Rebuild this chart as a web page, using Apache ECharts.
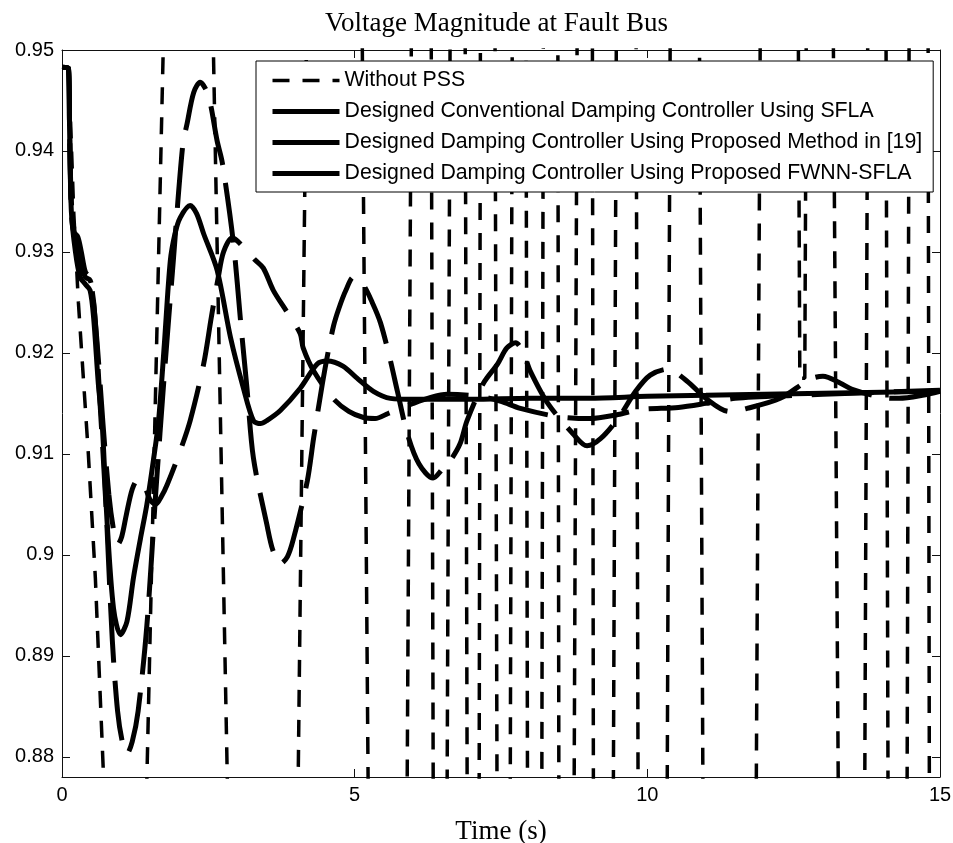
<!DOCTYPE html>
<html><head><meta charset="utf-8">
<script src="https://cdn.jsdelivr.net/npm/echarts@6/dist/echarts.min.js"></script>
<style>html,body{margin:0;padding:0;background:#fff}#c{width:953px;height:843px}</style>
</head><body><div id="c"></div>
<script>
const titleText = 'Voltage Magnitude at Fault Bus';
const xName = 'Time (s)';
const xTicks = [0, 5, 10, 15];
const yTicks = [0.88, 0.89, 0.9, 0.91, 0.92, 0.93, 0.94, 0.95];
const seriesNames = [
  'Without PSS',
  'Designed Conventional Damping Controller Using SFLA',
  'Designed Damping Controller Using Proposed Method in [19]',
  'Designed Damping Controller Using Proposed FWNN-SFLA'
];
// [time s, voltage pu]; values beyond the axis range are off-chart swings
const withoutPSS = [[0,0.9483],[0.11,0.9482],[0.14,0.944],[0.2,0.934],[0.28,0.925],[0.45,0.910],[0.57,0.8977],[0.71,0.878],[0.75,0.87],[1.42,0.87],[1.76,0.958],[2.56,0.958],[2.85,0.87],[4.02,0.87],[4.19,0.958],[5.12,0.958],[5.24,0.87],[5.89,0.87],[5.975,0.958],[6.305,0.958],[6.345,0.87],[6.575,0.87],[6.635,0.958],[6.885,0.958],[6.925,0.87],[7.125,0.87],[7.15,0.958],[7.395,0.958],[7.435,0.87],[7.655,0.87],[7.695,0.958],[7.925,0.958],[7.955,0.87],[8.195,0.87],[8.225,0.958],[8.47,0.958],[8.49,0.87],[8.745,0.87],[8.805,0.958],[9.06,0.958],[9.08,0.87],[9.415,0.87],[9.475,0.958],[9.805,0.958],[9.845,0.87],[10.335,0.87],[10.395,0.958],[10.885,0.958],[10.955,0.87],[11.855,0.87],[11.935,0.958],[12.575,0.958],[12.605,0.9175],[12.69,0.9175],[12.72,0.958],[13.17,0.958],[13.27,0.87],[13.71,0.87],[13.77,0.958],[14.075,0.958],[14.115,0.87],[14.435,0.87],[14.475,0.958],[14.795,0.958],[14.82,0.87],[15,0.87]];
const conventionalSFLA = [[0,0.9483],[0.11,0.9482],[0.13,0.942],[0.16,0.934],[0.2,0.932],[0.27,0.9315],[0.33,0.930],[0.4,0.928],[0.47,0.9275],[0.55,0.9245],[0.65,0.915],[0.75,0.905],[0.86,0.8915],[0.95,0.8845],[1.03,0.8815],[1.11,0.8803],[1.2,0.8815],[1.3,0.8845],[1.45,0.893],[1.6,0.906],[1.75,0.918],[1.9,0.929],[2.06,0.9404],[2.14,0.9428],[2.25,0.9458],[2.36,0.9468],[2.5,0.9455],[2.65,0.941],[2.74,0.9388],[2.93,0.9308],[3.05,0.9232],[3.16,0.9165],[3.27,0.9096],[3.5,0.903],[3.6,0.9005],[3.73,0.8991],[3.85,0.8998],[3.95,0.9015],[4.19,0.9073],[4.3,0.9116],[4.45,0.917],[4.55,0.9202],[4.64,0.9227],[4.73,0.9244],[4.85,0.9262],[4.98,0.9275],[5.15,0.9267],[5.3,0.925],[5.44,0.923],[5.6,0.9195],[5.73,0.9162],[5.9,0.912],[6.1,0.909],[6.34,0.9076],[6.5,0.9085],[6.63,0.9093],[6.8,0.911],[6.92,0.9133],[7.2,0.917],[7.44,0.9189],[7.6,0.9205],[7.75,0.921],[7.88,0.920],[8.0,0.9182],[8.3,0.915],[8.73,0.912],[8.97,0.9108],[9.2,0.9115],[9.5,0.9135],[9.8,0.9162],[10.05,0.9178],[10.35,0.9184],[10.68,0.9172],[11.0,0.9155],[11.4,0.9142],[11.7,0.9145],[12.27,0.9155],[12.78,0.9174],[13.0,0.9177],[13.3,0.917],[13.5,0.9164],[14.0,0.9156],[14.3,0.9155],[14.7,0.9158],[15,0.9162]];
const method19 = [[0,0.9483],[0.11,0.9482],[0.13,0.942],[0.16,0.935],[0.22,0.9315],[0.3,0.929],[0.4,0.9275],[0.48,0.9272],[0.52,0.926],[0.6,0.921],[0.7,0.913],[0.8,0.906],[0.88,0.9025],[0.95,0.901],[1.02,0.9018],[1.1,0.904],[1.2,0.9065],[1.3,0.9075],[1.4,0.907],[1.5,0.9055],[1.6,0.905],[1.7,0.9058],[1.8,0.907],[2.0,0.910],[2.19,0.9133],[2.42,0.9189],[2.55,0.9235],[2.67,0.9275],[2.76,0.930],[2.91,0.9314],[3.1,0.9305],[3.3,0.9292],[3.44,0.9284],[3.61,0.9262],[3.85,0.924],[4.07,0.9219],[4.12,0.9205],[4.3,0.9182],[4.63,0.9155],[4.9,0.9142],[5.15,0.9136],[5.35,0.9135],[5.57,0.914],[6.0,0.915],[6.3,0.9156],[6.58,0.9159],[7.15,0.9157],[7.5,0.9152],[7.83,0.9145],[8.46,0.9137],[9.02,0.9135],[9.5,0.9139],[9.88,0.9144],[10.53,0.9146],[11.0,0.915],[11.5,0.9155],[12.5,0.9158],[13.5,0.916],[15,0.9163]];
const fwnnSFLA = [[0,0.9483],[0.11,0.9482],[0.13,0.942],[0.16,0.934],[0.23,0.930],[0.31,0.9275],[0.4,0.9268],[0.48,0.9262],[0.54,0.9235],[0.62,0.917],[0.69,0.9126],[0.77,0.9033],[0.88,0.8947],[1.0,0.8921],[1.11,0.8934],[1.22,0.8977],[1.34,0.9016],[1.45,0.905],[1.56,0.9093],[1.65,0.9133],[1.75,0.921],[1.85,0.9291],[1.93,0.9318],[2.02,0.9334],[2.19,0.9346],[2.3,0.9338],[2.42,0.9318],[2.65,0.9282],[2.88,0.9215],[3.1,0.9165],[3.27,0.9133],[3.39,0.913],[3.5,0.9133],[3.73,0.9143],[4.07,0.9165],[4.36,0.9189],[4.53,0.9192],[4.8,0.9187],[5.04,0.9175],[5.32,0.9162],[5.61,0.9155],[6.0,0.9154],[7,0.9154],[8,0.9155],[9,0.9155],[10,0.9157],[11,0.9158],[12,0.9159],[13,0.916],[14,0.9161],[15,0.9162]];

const sans = "'Liberation Sans', Arial, sans-serif";
const serif = "'Liberation Serif', 'Times New Roman', serif";
const axisLineStyle = {show: true, onZero: false, lineStyle: {color: '#111', width: 1}};
const tickStyle = {show: true, inside: true, length: 8, lineStyle: {color: '#111', width: 1}};
const hiddenMark = {color: 'rgba(0,0,0,0)', borderColor: 'rgba(0,0,0,0)', borderWidth: 0, opacity: 0};

const chart = echarts.init(document.getElementById('c'), null, {renderer: 'canvas'});
const option = {
  animation: false,
  backgroundColor: '#fff',
  title: {text: titleText, left: 325, top: 10, padding: 0,
    textStyle: {fontFamily: serif, fontSize: 27, fontWeight: 'normal', color: '#000'}},
  grid: {left: 62, right: 13, top: 50, bottom: 66, outerBoundsMode: 'none', containLabel: false},
  legend: {
    orient: 'vertical', left: 256, top: 61, padding: [9, 11, 8, 14],
    itemWidth: 67, itemHeight: 21, itemGap: 10,
    backgroundColor: '#fff', borderColor: '#000', borderWidth: 1, borderRadius: 0,
    selectedMode: false,
    itemStyle: hiddenMark,
    lineStyle: {width: 5, color: '#000'},
    textStyle: {fontFamily: sans, fontSize: 21.3, color: '#000', lineHeight: 21},
    data: [
      {name: seriesNames[0], itemStyle: hiddenMark, lineStyle: {width: 3.5, color: '#000', type: [17, 13]}},
      {name: seriesNames[1], itemStyle: hiddenMark, lineStyle: {width: 5, color: '#000', type: 'solid'}},
      {name: seriesNames[2], itemStyle: hiddenMark, lineStyle: {width: 5, color: '#000', type: 'solid'}},
      {name: seriesNames[3], itemStyle: hiddenMark, lineStyle: {width: 5, color: '#000', type: 'solid'}}
    ]
  },
  xAxis: [
    {type: 'value', min: xTicks[0], max: xTicks[xTicks.length - 1], interval: 5, position: 'bottom',
     axisLine: axisLineStyle, axisTick: tickStyle, splitLine: {show: false},
     axisLabel: {fontFamily: sans, fontSize: 20, color: '#000', margin: 8},
     name: xName, nameLocation: 'middle', nameGap: 41,
     nameTextStyle: {fontFamily: serif, fontSize: 27, color: '#000'}},
    {type: 'value', min: xTicks[0], max: xTicks[xTicks.length - 1], interval: 5, position: 'top',
     axisLine: axisLineStyle, axisTick: tickStyle, splitLine: {show: false}, axisLabel: {show: false}}
  ],
  yAxis: [
    {type: 'value', min: 0.878, max: 0.95, position: 'left',
     axisLine: axisLineStyle, axisTick: Object.assign({customValues: yTicks}, tickStyle), splitLine: {show: false},
     axisLabel: {customValues: yTicks, fontFamily: sans, fontSize: 20, color: '#000', margin: 8}},
    {type: 'value', min: 0.878, max: 0.95, position: 'right',
     axisLine: axisLineStyle, axisTick: Object.assign({customValues: yTicks}, tickStyle), splitLine: {show: false},
     axisLabel: {show: false, customValues: yTicks}}
  ],
  series: [
    {name: seriesNames[0], type: 'line', data: withoutPSS, symbol: 'none', clip: true,
     itemStyle: {color: '#000'},
     lineStyle: {color: '#000', width: 3.5, type: [17, 13]}},
    {name: seriesNames[1], type: 'line', data: conventionalSFLA, symbol: 'none', clip: true, smooth: 0.3,
     itemStyle: {color: '#000'},
     lineStyle: {color: '#000', width: 5, type: [60, 18]}},
    {name: seriesNames[2], type: 'line', data: method19, symbol: 'none', clip: true, smooth: 0.3,
     itemStyle: {color: '#000'},
     lineStyle: {color: '#000', width: 5, type: [62, 20]}},
    {name: seriesNames[3], type: 'line', data: fwnnSFLA, symbol: 'none', clip: true, smooth: 0.3,
     itemStyle: {color: '#000'},
     lineStyle: {color: '#000', width: 5}}
  ]
};
chart.setOption(option);
</script></body></html>
